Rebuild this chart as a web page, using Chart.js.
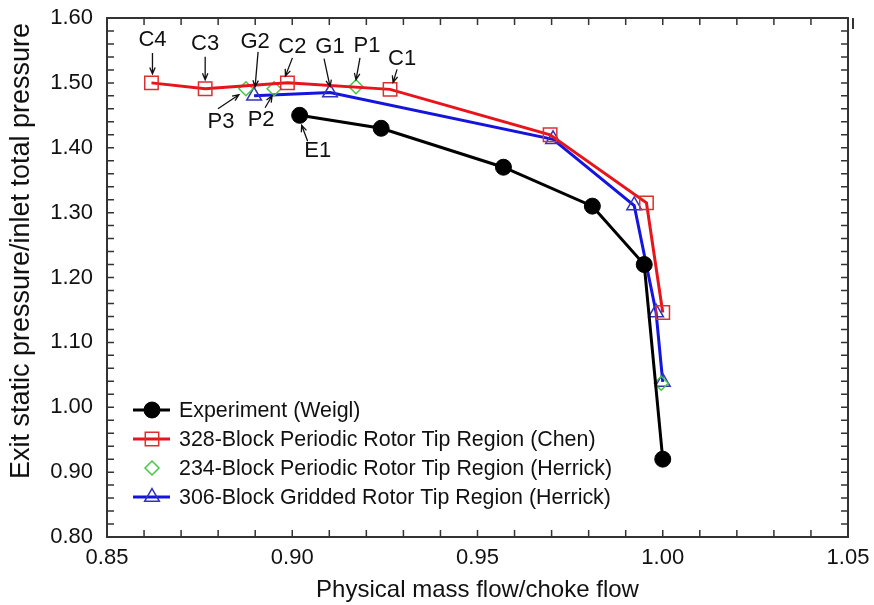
<!DOCTYPE html>
<html lang="en">
<head>
  <meta charset="UTF-8" />
  <title>Exit pressure ratio vs mass flow</title>
  <script src="https://cdn.jsdelivr.net/npm/chart.js"></script>
  <style>
    html, body { margin: 0; padding: 0; background: #fff; }
    canvas { display: block; }
  </style>
</head>
<body>
  <canvas id="chart" width="874" height="605"></canvas>

  <script>
    // Experiment (Weigl)
    const expFlow = [0.902, 0.924, 0.957, 0.981, 0.995, 1.000];
    const expPr   = [1.450, 1.430, 1.370, 1.310, 1.220, 0.920];
    // 328-Block periodic (Chen)
    const chenFlow = [0.862, 0.8765, 0.8987, 0.9264, 0.9696, 0.9956, 1.000];
    const chenPr   = [1.500, 1.491, 1.500, 1.490, 1.420, 1.315, 1.146];
    // 234-Block periodic (Herrick)
    const perFlow = [0.8875, 0.8951, 0.9172, 0.9996];
    const perPr   = [1.491, 1.491, 1.494, 1.037];
    // 306-Block gridded (Herrick)
    const gridFlow = [0.8897, 0.9102, 0.9704, 0.9923, 0.9982, 1.000];
    const gridPr   = [1.480, 1.485, 1.413, 1.311, 1.146, 1.039];

    const xMin = 0.85, xMax = 1.05, xStep = 0.05, xMinor = 0.01;
    const yMin = 0.80, yMax = 1.60, yStep = 0.10, yMinor = 0.02;
    const yTitle = "Exit static pressure/inlet total pressure";
    const xTitle = "Physical mass flow/choke flow";

    // point labels: text, dataset index, point index
    const pointLabels = [
      ["C4", 1, 0], ["C3", 1, 1], ["G2", 3, 0], ["C2", 1, 2], ["G1", 3, 1],
      ["P1", 2, 2], ["C1", 1, 3], ["P3", 2, 0], ["P2", 2, 1], ["E1", 0, 0]
    ];
    // pixel offsets from the point: text, arrow start, arrow tip
    const labelOffsets = {
      C4: [[1, -43], [1, -30], [1, -9]],
      C3: [[0, -45], [0, -32], [0, -9]],
      G2: [[1, -54], [4, -44], [1, -9]],
      C2: [[5, -36], [5, -25], [-2, -7]],
      G1: [[0, -46], [-6, -34], [0, -6]],
      P1: [[11, -41], [4, -29], [0, -7]],
      C1: [[12, -30], [7, -20], [3, -7]],
      P3: [[-25, 33], [-28, 20], [-7, 6]],
      P2: [[-13, 31], [-9, 19], [-2, 7]],
      E1: [[18, 36], [8, 26], [2, 10]]
    };

    const pts = (xs, ys) => xs.map((v, i) => ({ x: v, y: ys[i] }));
    const FONT = "'Liberation Sans', Arial, sans-serif";

    const frame = {
      id: "frame",
      afterDatasetsDraw(chart) {
        const { ctx, chartArea: a, scales: { x, y } } = chart;
        ctx.save();
        ctx.strokeStyle = "#333";
        ctx.lineWidth = 1.5;
        ctx.beginPath();
        const nx = Math.round((xMax - xMin) / xMinor);
        for (let i = 1; i < nx; i++) {
          const px = x.getPixelForValue(xMin + i * xMinor);
          ctx.moveTo(px, a.bottom); ctx.lineTo(px, a.bottom - 7);
          ctx.moveTo(px, a.top); ctx.lineTo(px, a.top + 7);
        }
        const ny = Math.round((yMax - yMin) / yMinor);
        for (let i = 1; i < ny; i++) {
          const py = y.getPixelForValue(yMin + i * yMinor);
          ctx.moveTo(a.left, py); ctx.lineTo(a.left + 7, py);
          ctx.moveTo(a.right, py); ctx.lineTo(a.right - 7, py);
        }
        ctx.stroke();
        ctx.lineWidth = 2;
        ctx.strokeRect(a.left, a.top, a.right - a.left, a.bottom - a.top);
        // small stray mark at the top right in the original
        ctx.beginPath();
        ctx.moveTo(a.right + 5, a.top);
        ctx.lineTo(a.right + 5, a.top + 11);
        ctx.stroke();
        ctx.restore();
      },
      afterDraw(chart) {
        const { ctx, chartArea: a } = chart;
        ctx.save();
        ctx.fillStyle = "#111";
        ctx.textAlign = "center";
        ctx.textBaseline = "middle";
        // y axis title
        ctx.save();
        ctx.font = "27px " + FONT;
        ctx.translate(22, 251);
        ctx.rotate(-Math.PI / 2);
        ctx.fillText(yTitle, 0, 0);
        ctx.restore();
        // labels with arrows
        ctx.font = "22px " + FONT;
        pointLabels.forEach(([txt, ds, idx]) => {
          const el = chart.getDatasetMeta(ds).data[idx];
          const [t, s, e] = labelOffsets[txt];
          ctx.fillText(txt, el.x + t[0], el.y + t[1]);
          const x0 = el.x + s[0], y0 = el.y + s[1], x1 = el.x + e[0], y1 = el.y + e[1];
          const ang = Math.atan2(y1 - y0, x1 - x0);
          ctx.strokeStyle = "#111";
          ctx.lineWidth = 1.3;
          ctx.beginPath();
          ctx.moveTo(x0, y0); ctx.lineTo(x1, y1);
          ctx.moveTo(x1 - 7 * Math.cos(ang - 0.4), y1 - 7 * Math.sin(ang - 0.4));
          ctx.lineTo(x1, y1);
          ctx.lineTo(x1 - 7 * Math.cos(ang + 0.4), y1 - 7 * Math.sin(ang + 0.4));
          ctx.stroke();
        });
        // legend
        ctx.font = "21.4px " + FONT;
        ctx.textAlign = "left";
        chart.data.datasets.forEach((d, i) => {
          const ly = a.bottom - 127 + i * 29;
          const lx = a.left + 26;
          if (d.showLine !== false) {
            ctx.strokeStyle = d.borderColor;
            ctx.lineWidth = d.borderWidth;
            ctx.beginPath();
            ctx.moveTo(lx, ly); ctx.lineTo(lx + 37, ly);
            ctx.stroke();
          }
          ctx.strokeStyle = d.pointBorderColor;
          ctx.fillStyle = d.pointBackgroundColor;
          ctx.lineWidth = d.pointBorderWidth;
          Chart.helpers.drawPoint(ctx, {
            pointStyle: d.pointStyle, radius: d.pointRadius, rotation: 0,
            borderWidth: d.pointBorderWidth
          }, lx + 19, ly);
          ctx.fillStyle = "#111";
          ctx.fillText(d.label, lx + 46, ly + 1);
        });
        ctx.restore();
      }
    };

    new Chart(document.getElementById("chart"), {
      type: "scatter",
      data: {
        datasets: [
          {
            label: "Experiment (Weigl)",
            data: pts(expFlow, expPr),
            showLine: true,
            borderColor: "#000", borderWidth: 3,
            pointStyle: "circle", pointRadius: 8,
            pointBackgroundColor: "#000", pointBorderColor: "#000", pointBorderWidth: 1
          },
          {
            label: "328-Block Periodic Rotor Tip Region (Chen)",
            data: pts(chenFlow, chenPr),
            showLine: true,
            borderColor: "#e8141a", borderWidth: 3,
            pointStyle: "rect", pointRadius: 9.5,
            pointBackgroundColor: "rgba(0,0,0,0)", pointBorderColor: "#d93030", pointBorderWidth: 1.5
          },
          {
            label: "234-Block Periodic Rotor Tip Region (Herrick)",
            data: pts(perFlow, perPr),
            showLine: false,
            borderColor: "#44c844", borderWidth: 1.5,
            pointStyle: "rectRot", pointRadius: 7,
            pointBackgroundColor: "rgba(0,0,0,0)", pointBorderColor: "#44c844", pointBorderWidth: 1.5
          },
          {
            label: "306-Block Gridded Rotor Tip Region (Herrick)",
            data: pts(gridFlow, gridPr),
            showLine: true,
            borderColor: "#1414e0", borderWidth: 3,
            pointStyle: "triangle", pointRadius: 8.5,
            pointBackgroundColor: "rgba(0,0,0,0)", pointBorderColor: "#3333b8", pointBorderWidth: 1.5
          }
        ]
      },
      options: {
        responsive: false,
        animation: false,
        layout: { padding: { left: 0, top: 18, right: 26, bottom: 0 } },
        plugins: { legend: { display: false }, tooltip: { enabled: false } },
        elements: { line: { tension: 0 } },
        scales: {
          x: {
            type: "linear", min: xMin, max: xMax,
            afterFit: s => { s.height = 68; s.paddingLeft = 0; s.paddingRight = 0; },
            grid: { display: false, drawTicks: false },
            border: { display: false },
            ticks: {
              stepSize: xStep, padding: 8, color: "#111",
              font: { family: FONT, size: 22 },
              callback: v => v.toFixed(2)
            },
            title: {
              display: true, text: xTitle, color: "#111",
              font: { family: FONT, size: 24 }, padding: { top: 0, bottom: 0 }
            }
          },
          y: {
            type: "linear", min: yMin, max: yMax,
            afterFit: s => { s.width = 107; s.paddingTop = 0; s.paddingBottom = 0; },
            grid: { display: false, drawTicks: false },
            border: { display: false },
            ticks: {
              stepSize: yStep, padding: 14, color: "#111",
              font: { family: FONT, size: 22 },
              callback: v => v.toFixed(2)
            },
            title: { display: false }
          }
        }
      },
      plugins: [frame]
    });
  </script>
</body>
</html>
